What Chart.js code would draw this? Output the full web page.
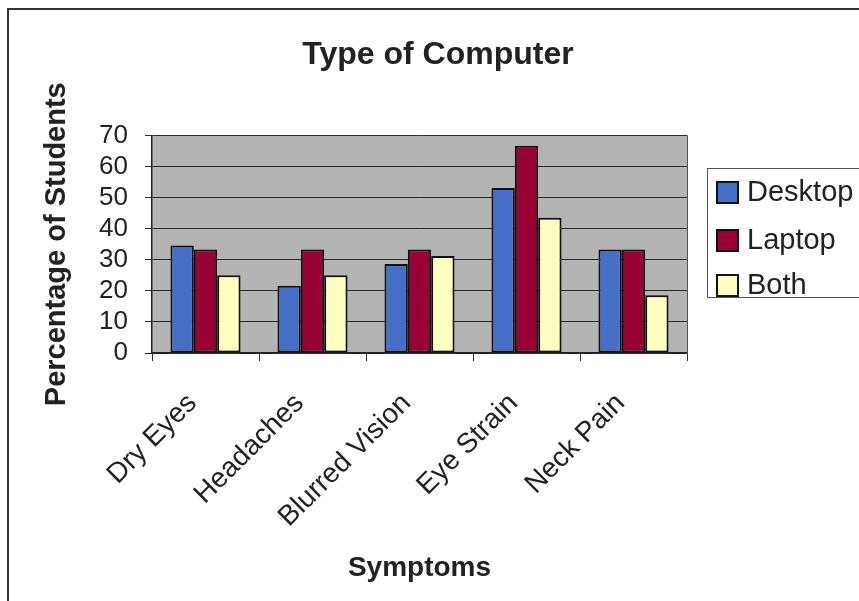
<!DOCTYPE html>
<html>
<head>
<meta charset="utf-8">
<script src="https://cdn.jsdelivr.net/npm/chart.js@4.4.1/dist/chart.umd.min.js"></script>
<style>
  html, body { margin: 0; padding: 0; background: #ffffff; }
  #wrap { position: relative; width: 859px; height: 601px; }
</style>
</head>
<body>
<div id="wrap"><canvas id="chart" width="859" height="601"></canvas></div>
<script>
// Symptoms reported, by type of computer used (percentage of students)
const categories = ['Dry Eyes', 'Headaches', 'Blurred Vision', 'Eye Strain', 'Neck Pain'];
const desktop = [34.6, 21.6, 28.6, 53.1, 33.3];
const laptop  = [33.3, 33.3, 33.3, 66.7, 33.3];
const both    = [25.0, 25.0, 31.2, 43.5, 18.6];
const seriesNames = ['Desktop', 'Laptop', 'Both'];
const yTicks = [0, 10, 20, 30, 40, 50, 60, 70];

const FONT = '"Liberation Sans", Arial, Helvetica, sans-serif';
const INK = '#222222';

// Grey plot background plus the outer frame lines
const backdrop = {
  id: 'backdrop',
  beforeDraw(chart) {
    const { ctx, chartArea: a } = chart;
    ctx.save();
    ctx.fillStyle = '#ffffff';
    ctx.fillRect(0, 0, chart.width, chart.height);
    ctx.strokeStyle = '#333333';
    ctx.lineWidth = 2;
    ctx.beginPath();
    ctx.moveTo(8, chart.height);
    ctx.lineTo(8, 9);
    ctx.lineTo(chart.width, 9);
    ctx.stroke();
    ctx.fillStyle = '#b4b4b4';
    ctx.fillRect(a.left, a.top, a.right - a.left, a.bottom - a.top);
    ctx.restore();
  },
  afterDatasetsDraw(chart) {
    const { ctx, chartArea: a } = chart;
    ctx.save();
    ctx.strokeStyle = '#555555';
    ctx.lineWidth = 1;
    ctx.beginPath();
    ctx.moveTo(a.right + 0.5, a.top);
    ctx.lineTo(a.right + 0.5, a.bottom);
    ctx.stroke();
    ctx.restore();
  }
};

// Boxed legend drawn in the space kept free on the right
const boxLegend = {
  id: 'boxLegend',
  afterDraw(chart) {
    const { ctx } = chart;
    const x0 = 707, y0 = 168, w = 170, h = 129;
    ctx.save();
    ctx.fillStyle = '#ffffff';
    ctx.fillRect(x0, y0, w, h);
    ctx.strokeStyle = '#555555';
    ctx.lineWidth = 1;
    ctx.strokeRect(x0 + 0.5, y0 + 0.5, w, h);
    const rows = [192, 240, 285];
    chart.data.datasets.forEach((ds, i) => {
      const cy = rows[i];
      ctx.fillStyle = ds.backgroundColor;
      ctx.fillRect(717, cy - 10, 21, 21);
      ctx.strokeStyle = '#111111';
      ctx.lineWidth = 2;
      ctx.strokeRect(717, cy - 10, 21, 21);
      ctx.fillStyle = INK;
      ctx.font = '29px ' + FONT;
      ctx.textBaseline = 'middle';
      ctx.textAlign = 'left';
      ctx.fillText(ds.label, 747, cy + 1);
    });
    ctx.restore();
  }
};

const colors = ['#4670c8', '#990033', '#ffffc0'];
const values = [desktop, laptop, both];

new Chart(document.getElementById('chart'), {
  type: 'bar',
  data: {
    labels: categories,
    datasets: seriesNames.map((name, i) => ({
      label: name,
      data: values[i],
      backgroundColor: colors[i],
      borderColor: '#111111',
      borderWidth: 2,
      borderSkipped: false,
      barPercentage: 1.0,
      categoryPercentage: 0.655
    }))
  },
  options: {
    responsive: false,
    animation: false,
    layout: { padding: { left: 17, right: 0, top: 0, bottom: 0 } },
    plugins: {
      legend: { display: false },
      tooltip: { enabled: false },
      title: {
        display: true,
        text: 'Type of Computer',
        color: INK,
        font: { family: FONT, size: 32, weight: 'bold' },
        padding: { top: 36, bottom: 61 }
      }
    },
    scales: {
      x: {
        grid: { drawOnChartArea: false, drawTicks: true, tickLength: 8, color: '#333333', offset: true },
        border: { display: true, color: '#222222', width: 1.5 },
        ticks: {
          color: INK,
          font: { family: FONT, size: 28 },
          minRotation: 45,
          maxRotation: 45,
          padding: 26,
          labelOffset: -13
        },
        title: {
          display: true,
          text: 'Symptoms',
          color: INK,
          font: { family: FONT, size: 28, weight: 'bold' },
          padding: { top: 0, bottom: 16 }
        },
        afterFit(scale) { scale.height = 248; }
      },
      y: {
        min: 0,
        max: 70,
        afterBuildTicks(scale) { scale.ticks = yTicks.map(v => ({ value: v })); },
        grid: { color: '#2a2a2a', lineWidth: 1, tickLength: 7, drawTicks: true },
        border: { display: true, color: '#222222', width: 1.5 },
        ticks: {
          color: INK,
          font: { family: FONT, size: 26 },
          padding: 17,
          autoSkip: false
        },
        title: {
          display: true,
          text: 'Percentage of Students',
          color: INK,
          font: { family: FONT, size: 29, weight: 'bold' },
          padding: { top: 23, bottom: 0 }
        },
        afterFit(scale) { scale.width = 135; }
      },
      legendSpace: {
        type: 'linear',
        position: 'right',
        display: true,
        grid: { display: false, drawTicks: false },
        border: { display: false },
        ticks: { display: false },
        afterFit(scale) { scale.width = 172; }
      }
    }
  },
  plugins: [backdrop, boxLegend]
});
</script>
</body>
</html>
